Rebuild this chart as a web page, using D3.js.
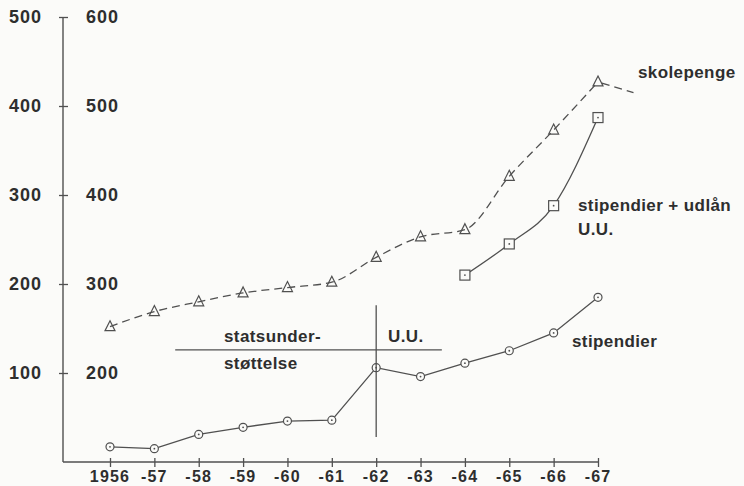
<!DOCTYPE html>
<html>
<head>
<meta charset="utf-8">
<script src="https://cdn.jsdelivr.net/npm/d3@7"></script>
<style>
  body { margin: 0; background: #fbfbf9; }
  svg { display: block; }
  text { font-family: "Liberation Sans", Arial, sans-serif; font-weight: bold; fill: #2e2e2e; }
</style>
</head>
<body>
<div id="chart"></div>
<script>
// years on the x axis and their printed labels
var years = [1956, 1957, 1958, 1959, 1960, 1961, 1962, 1963, 1964, 1965, 1966, 1967];
var yearLabels = ["1956", "-57", "-58", "-59", "-60", "-61", "-62", "-63", "-64", "-65", "-66", "-67"];

// left scale (100-500) and right scale (200-600) tick labels
var leftTicks = [100, 200, 300, 400, 500];
var rightTicks = [200, 300, 400, 500, 600];

// skolepenge, read on the right scale
var skolepenge = [252, 269, 280, 290, 296, 302, 330, 353, 361, 421, 473, 527];
// dashed tail after -67
var skoleTailYear = [1967, 1967.8];
var skoleTail = [527, 515];

// stipendier, left scale
var stipendier = [17, 15, 31, 39, 46, 47, 106, 96, 111, 125, 145, 185];

// stipendier + udlån U.U., left scale
var udlanYears = [1964, 1965, 1966, 1967];
var udlan = [210, 245, 288, 387];

var svgWidth = 744;
var svgHeight = 486;

var svg = d3.select("#chart")
  .append("svg")
  .attr("width", svgWidth)
  .attr("height", svgHeight);

var axisX = 63;
var ink = "#505050";

var x = d3.scaleLinear().domain([1956, 1967]).range([110, 598]);
var yLeft = d3.scaleLinear().domain([0, 500]).range([462, 17]);
var yRight = d3.scaleLinear().domain([100, 600]).range([462, 17]);

// y axis
var yAxis = svg.append("g")
  .attr("transform", `translate(${axisX},0)`)
  .call(d3.axisLeft(yLeft).tickValues(leftTicks).tickSize(4).tickFormat(""));
yAxis.select(".domain").remove();
yAxis.selectAll(".tick line").attr("x1", -4).attr("x2", 5).attr("stroke", ink).attr("stroke-width", 1.3);
svg.append("line")
  .attr("x1", axisX).attr("x2", axisX)
  .attr("y1", yLeft(500)).attr("y2", yLeft(0))
  .attr("stroke", ink).attr("stroke-width", 1.4);

// two columns of labels
svg.append("g").selectAll("text")
  .data(leftTicks)
  .enter()
  .append("text")
  .attr("x", 42)
  .attr("y", d => yLeft(d))
  .attr("dy", "0.36em")
  .attr("text-anchor", "end")
  .style("font-size", "18px")
  .style("letter-spacing", "1px")
  .text(d => d);

svg.append("g").selectAll("text")
  .data(rightTicks)
  .enter()
  .append("text")
  .attr("x", 119)
  .attr("y", d => yRight(d))
  .attr("dy", "0.36em")
  .attr("text-anchor", "end")
  .style("font-size", "18px")
  .style("letter-spacing", "1px")
  .text(d => d);

// x axis
var xAxis = svg.append("g")
  .attr("transform", `translate(0,${yLeft(0)})`)
  .call(d3.axisBottom(x).tickValues(years).tickSize(4).tickFormat(""));
xAxis.select(".domain").remove();
xAxis.selectAll(".tick line").attr("y1", -4).attr("y2", 5).attr("stroke", ink).attr("stroke-width", 1.3);
svg.append("line")
  .attr("x1", axisX).attr("x2", x(1967))
  .attr("y1", yLeft(0)).attr("y2", yLeft(0))
  .attr("stroke", ink).attr("stroke-width", 1.4);

svg.append("g").selectAll("text")
  .data(years)
  .enter()
  .append("text")
  .attr("x", d => x(d))
  .attr("y", 482)
  .attr("text-anchor", "middle")
  .style("font-size", "16px")
  .style("letter-spacing", "1.2px")
  .text((d, i) => yearLabels[i]);

var smooth = d3.line().curve(d3.curveMonotoneX);
var straight = d3.line();

// skolepenge dashed line
var skolePts = years.map((d, i) => [x(d), yRight(skolepenge[i])]);
var tailPts = skoleTailYear.map((d, i) => [x(d), yRight(skoleTail[i])]);
svg.append("path")
  .attr("d", smooth(skolePts))
  .attr("fill", "none")
  .attr("stroke", ink)
  .attr("stroke-width", 1.3)
  .attr("stroke-dasharray", "8,5");
svg.append("path")
  .attr("d", straight(tailPts))
  .attr("fill", "none")
  .attr("stroke", ink)
  .attr("stroke-width", 1.3)
  .attr("stroke-dasharray", "8,5")
  .attr("stroke-dashoffset", -4);

// triangles
svg.append("g").selectAll("path")
  .data(skolePts)
  .enter()
  .append("path")
  .attr("d", d => `M${d[0]},${d[1] - 6}L${d[0] + 5},${d[1] + 4}L${d[0] - 5},${d[1] + 4}Z`)
  .attr("fill", "none")
  .attr("stroke", ink)
  .attr("stroke-width", 1.2);

// stipendier
var stipPts = years.map((d, i) => [x(d), yLeft(stipendier[i])]);
svg.append("path")
  .attr("d", straight(stipPts))
  .attr("fill", "none")
  .attr("stroke", ink)
  .attr("stroke-width", 1.3);

var circ = svg.append("g").selectAll("g")
  .data(stipPts)
  .enter()
  .append("g");
circ.append("circle")
  .attr("cx", d => d[0]).attr("cy", d => d[1]).attr("r", 4)
  .attr("fill", "#fbfbf9").attr("stroke", ink).attr("stroke-width", 1.2);
circ.append("circle")
  .attr("cx", d => d[0]).attr("cy", d => d[1]).attr("r", 0.9)
  .attr("fill", ink);

// stipendier + udlån
var udlanPts = udlanYears.map((d, i) => [x(d), yLeft(udlan[i])]);
svg.append("path")
  .attr("d", smooth(udlanPts))
  .attr("fill", "none")
  .attr("stroke", ink)
  .attr("stroke-width", 1.3);

var sq = svg.append("g").selectAll("g")
  .data(udlanPts)
  .enter()
  .append("g");
sq.append("rect")
  .attr("x", d => d[0] - 5).attr("y", d => d[1] - 5)
  .attr("width", 10).attr("height", 10)
  .attr("fill", "#fbfbf9").attr("stroke", ink).attr("stroke-width", 1.2);
sq.append("circle")
  .attr("cx", d => d[0]).attr("cy", d => d[1]).attr("r", 0.9)
  .attr("fill", ink);

// statsunderstøttelse / U.U. divider
svg.append("line")
  .attr("x1", x(1962)).attr("x2", x(1962))
  .attr("y1", yLeft(176)).attr("y2", yLeft(28))
  .attr("stroke", ink).attr("stroke-width", 1.3);
svg.append("line")
  .attr("x1", x(1957.47)).attr("x2", x(1963.48))
  .attr("y1", yLeft(126)).attr("y2", yLeft(126))
  .attr("stroke", ink).attr("stroke-width", 1.3);

function label(tx, ty, str) {
  svg.append("text")
    .attr("x", tx)
    .attr("y", ty)
    .style("font-size", "17px")
    .style("letter-spacing", "0.4px")
    .text(str);
}

label(224, 342, "statsunder-");
label(224, 369, "støttelse");
label(388, 342, "U.U.");
label(638, 78, "skolepenge");
label(578, 211, "stipendier + udlån");
label(578, 235, "U.U.");
label(572, 347, "stipendier");
</script>
</body>
</html>
